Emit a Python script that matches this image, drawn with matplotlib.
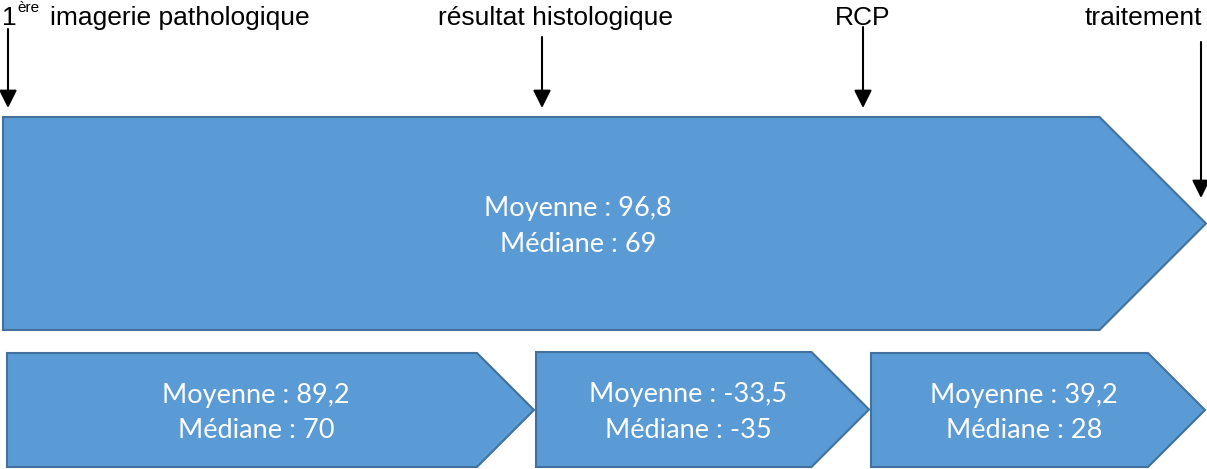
import matplotlib
matplotlib.use("Agg")
import numpy as np
from matplotlib import pyplot as plt
from matplotlib.patches import Polygon

# data
stepLabels = ["imagerie pathologique", "résultat histologique", "RCP", "traitement"]
totalMean = "96,8"
totalMedian = "69"
stepMeans = ["89,2", "-33,5", "39,2"]
stepMedians = ["70", "-35", "28"]

# layout (pixels, y pointing down)
W, H = 1207, 469
fill = "#5B9BD5"
edge = "#41719C"
# (left, top, bottom, tip_x)
bigBox = (3, 117, 330, 1206)
smallBoxes = [(7, 353, 467, 534), (536, 352, 467, 869), (871, 353, 467, 1205)]
labelX = [None, 555, 863, 1143]
arrowX = [8, 542, 863, 1201]
arrowY0 = [29, 37, 27, 42]
arrowY1 = [108, 108, 108, 198]

fig = plt.figure(figsize=(W / 100, H / 100), dpi=100)
ax = fig.add_axes([0, 0, 1, 1])
ax.set_xlim(0, W)
ax.set_ylim(H, 0)
ax.axis("off")


def home_plate(left, top, bottom, tip):
    half = (bottom - top) / 2.0
    mid = top + half
    pts = [(left, top), (tip - half, top), (tip, mid), (tip - half, bottom), (left, bottom)]
    ax.add_patch(Polygon(pts, closed=True, facecolor=fill, edgecolor=edge, lw=1.5, zorder=1))
    return (left + tip - half / 2.0) / 2.0, mid


def box_text(cx, cy, mean, median):
    ax.text(cx, cy - 15, "Moyenne : " + mean, color="white", family="Lato",
            fontsize=19.5, ha="center", va="center", zorder=3)
    ax.text(cx, cy + 21, "Médiane : " + median, color="white", family="Lato",
            fontsize=19.5, ha="center", va="center", zorder=3)


cx, cy = home_plate(*bigBox)
box_text(cx, cy, totalMean, totalMedian)
for b, m, md in zip(smallBoxes, stepMeans, stepMedians):
    cx, cy = home_plate(*b)
    box_text(cx, cy, m, md)

# top labels
lab = dict(family="Liberation Sans", fontsize=19, color="black", va="baseline")
ax.text(2, 25, "1", ha="left", **lab)
ax.text(17, 12, "ère", ha="left", family="Liberation Sans", fontsize=11, va="baseline")
ax.text(50, 25, stepLabels[0], ha="left", **lab)
for i in range(1, 4):
    ax.text(labelX[i], 25, stepLabels[i], ha="center", **lab)

for x, y0, y1 in zip(arrowX, arrowY0, arrowY1):
    ax.annotate("", xy=(x, y1), xytext=(x, y0),
                arrowprops=dict(arrowstyle="-|>,head_length=0.4,head_width=0.2",
                                mutation_scale=27, lw=1.5, color="black",
                                shrinkA=0, shrinkB=0), zorder=4)

fig.savefig("out.png", dpi=100)
